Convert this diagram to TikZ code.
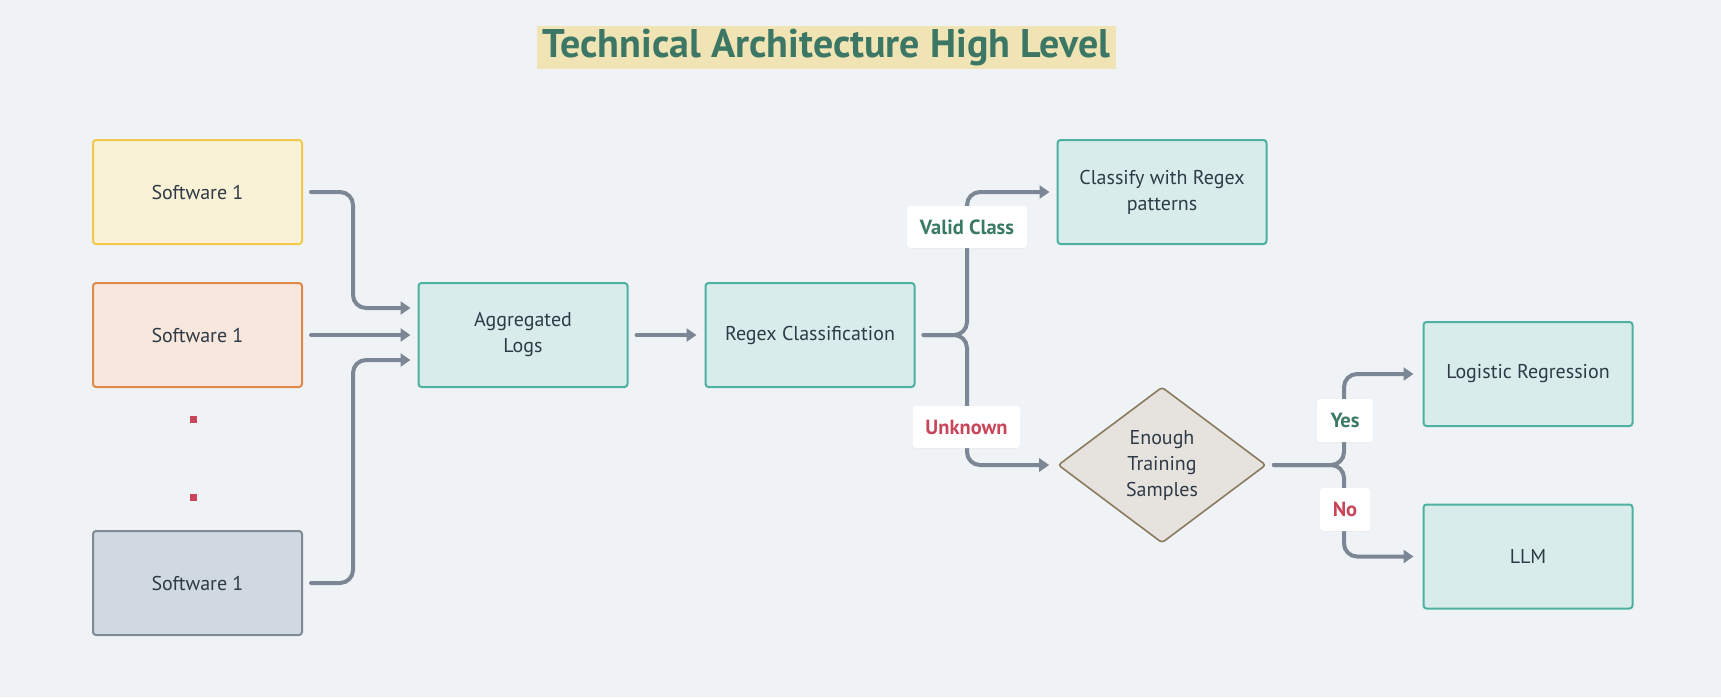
\documentclass[tikz,border=0pt]{standalone}
\usepackage{fontspec}
\setmainfont{PT Sans}
\usetikzlibrary{arrows.meta,shapes.geometric,shadows}
\definecolor{bgc}{HTML}{EFF3F6}
\definecolor{txt}{HTML}{2E3A46}
\definecolor{conn}{HTML}{7B8794}
\definecolor{yelF}{HTML}{FAF2D7}
\definecolor{yelD}{HTML}{F2C94C}
\definecolor{orgF}{HTML}{F8E7DC}
\definecolor{orgD}{HTML}{E0894A}
\definecolor{gryF}{HTML}{D0D9E1}
\definecolor{gryD}{HTML}{7F8A96}
\definecolor{tealF}{HTML}{D8EDEB}
\definecolor{tealD}{HTML}{4DB0A0}
\definecolor{diaF}{HTML}{E6E3DF}
\definecolor{diaD}{HTML}{8A7A5E}
\definecolor{titleC}{HTML}{3C7766}
\definecolor{titleBg}{HTML}{F0E4B4}
\definecolor{okC}{HTML}{3A7A63}
\definecolor{badC}{HTML}{C9465A}
\tikzset{
  box/.style={rectangle, rounded corners=3pt, line width=2pt, minimum width=209pt, minimum height=104pt, inner sep=0pt, text=txt, align=center, font=\fontsize{20}{26}\selectfont},
  decision/.style={diamond, rounded corners=3pt, line width=1.6pt, minimum width=208pt, minimum height=156pt, inner sep=0pt, text=txt, align=center, font=\fontsize{20}{26}\selectfont, fill=diaF, draw=diaD},
  link/.style={draw=conn, line width=4pt, line cap=round, rounded corners=13pt, -{Triangle[length=10pt,width=13pt]}},
  tag/.style={rectangle, rounded corners=3pt, fill=white, inner sep=0pt, minimum height=42pt, font=\fontsize{20.5}{24}\bfseries\selectfont, drop shadow={opacity=0.06, shadow xshift=0pt, shadow yshift=-1pt}},
  dotm/.style={rectangle, fill=badC, minimum size=7pt, inner sep=0pt}
}
\begin{document}
\begin{tikzpicture}[x=1pt,y=-1pt]
\fill[bgc] (0,0) rectangle (1721,697);
\useasboundingbox (0,0) rectangle (1721,697);

% title
\node[fill=titleBg, minimum width=579pt, minimum height=43pt, inner sep=0pt, text=titleC, font=\fontsize{40}{44}\bfseries\selectfont] (title) at (826.5,47.5) {Technical Architecture High Level};

% sources
\node[box, fill=yelF, draw=yelD] (s1) at (197.5,192) {Software 1};
\node[box, fill=orgF, draw=orgD] (s2) at (197.5,335) {Software 1};
\node[box, fill=gryF, draw=gryD] (s3) at (197.5,583) {Software 1};
\node[dotm] (d1) at (193,419) {};
\node[dotm] (d2) at (193,497) {};

% main flow
\node[box, fill=tealF, draw=tealD] (agg) at (523,335) {Aggregated\\Logs};
\node[box, fill=tealF, draw=tealD] (regex) at (810,335) {Regex Classification};
\node[box, fill=tealF, draw=tealD] (cls) at (1162,192) {Classify with Regex\\patterns};
\node[decision] (dec) at (1162,465) {Enough\\Training\\Samples};
\node[box, fill=tealF, draw=tealD] (logr) at (1528,374) {Logistic Regression};
\node[box, fill=tealF, draw=tealD] (llm) at (1528,556.5) {LLM};

% bus and port coordinates
\coordinate (b1) at (353,0);
\coordinate (b2) at (967,0);
\coordinate (b3) at (1344,0);
\coordinate (o1) at ([xshift=8pt]s1.east);
\coordinate (o2) at ([xshift=8pt]s2.east);
\coordinate (o3) at ([xshift=8pt]s3.east);
\coordinate (oa) at ([xshift=8pt]agg.east);
\coordinate (or) at ([xshift=8pt]regex.east);
\coordinate (od) at ([xshift=7pt]dec.east);

% connectors
\draw[link] (o1) -- (o1 -| b1) |- ([xshift=-7pt,yshift=27pt]agg.west);
\draw[link] (o2) -- ([xshift=-7pt]agg.west);
\draw[link] (o3) -- (o3 -| b1) |- ([xshift=-7pt,yshift=-25pt]agg.west);
\draw[link] (oa) -- ([xshift=-8pt]regex.west);
\draw[link] (or) -- (or -| b2) |- ([xshift=-7pt]cls.west);
\draw[link] (or) -- (or -| b2) |- ([xshift=-8pt]dec.west);
\draw[link] (od) -- (od -| b3) |- ([xshift=-9pt]logr.west);
\draw[link] (od) -- (od -| b3) |- ([xshift=-9pt]llm.west);

% labels
\node[tag, minimum width=120pt, text=okC] (lvalid) at (967,227) {Valid Class};
\node[tag, minimum width=107pt, text=badC] (lunk) at (966.5,427) {Unknown};
\node[tag, minimum width=56pt, minimum height=43pt, text=okC] (lyes) at (1345,420.5) {Yes};
\node[tag, minimum width=50pt, minimum height=43pt, text=badC] (lno) at (1345,509.5) {No};
\end{tikzpicture}
\end{document}
